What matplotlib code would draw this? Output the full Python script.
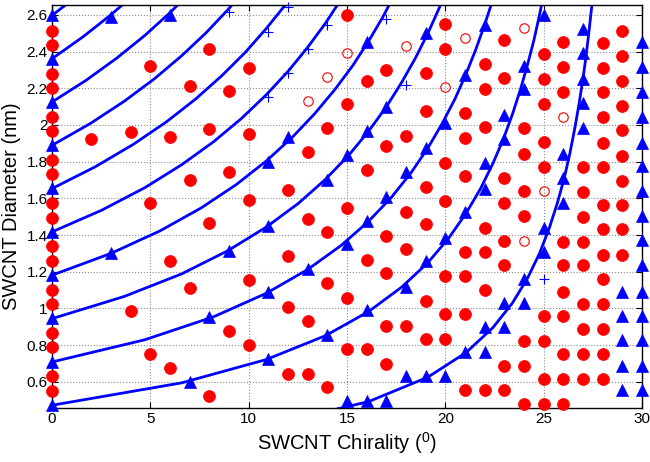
import matplotlib
matplotlib.use("Agg")
import matplotlib.pyplot as plt

plt.rcParams['font.family'] = ['Liberation Sans', 'DejaVu Sans']
plt.rcParams['mathtext.default'] = 'regular'

# ---------------- data ----------------
# metallic SWCNTs (blue filled triangles): chirality column -> diameters
metallic = {
    0: [0.473, 0.709, 0.946, 1.182, 1.416, 1.655, 1.891, 2.124, 2.357, 2.598],
    3: [1.300, 2.590],
    6: [2.600],
    7: [0.600],
    8: [0.955],
    9: [1.315],
    11: [0.724, 1.088, 1.450, 1.800],
    12: [1.937],
    13: [1.214],
    14: [0.856, 1.700],
    15: [0.493, 1.352, 1.837],
    16: [0.493, 0.989, 1.477, 1.968, 2.455],
    17: [0.493, 1.607, 2.100],
    18: [0.633, 1.119, 1.741],
    19: [0.633, 1.256, 1.877, 2.500],
    20: [0.633, 1.383, 2.008],
    21: [0.765, 1.523, 2.273],
    22: [0.765, 0.896, 1.650, 1.792, 2.545],
    23: [0.896, 1.032, 1.923, 2.055],
    24: [1.032, 1.160, 2.195, 2.322],
    25: [1.305, 1.438, 2.600],
    26: [1.574, 1.710, 1.843],
    27: [1.983, 2.119, 2.251, 2.391, 2.524],
    29: [0.553, 0.687, 0.825, 0.960, 1.092],
    30: [0.553, 0.687, 0.825, 0.960, 1.092, 1.238, 1.374, 1.505, 1.641,
         1.777, 1.904, 2.046, 2.180, 2.318, 2.451],
}

# semiconducting SWCNTs (red filled circles)
semicond = {
    0: [0.551, 0.630, 0.787, 0.868, 1.025, 1.102, 1.259, 1.338, 1.494, 1.574,
        1.731, 1.807, 1.966, 2.044, 2.202, 2.280, 2.436, 2.512],
    2: [1.923],
    4: [0.987, 1.964],
    5: [0.751, 1.577, 2.322],
    6: [0.675, 1.261, 1.933],
    7: [1.110, 1.700, 2.213],
    8: [0.520, 1.467, 1.979, 2.415],
    9: [0.878, 1.746, 2.186],
    10: [0.800, 1.156, 1.592, 1.951, 2.309],
    12: [0.644, 1.005, 1.287, 1.643],
    13: [0.644, 0.929, 1.490, 1.850],
    14: [0.569, 1.138, 1.414, 1.983],
    15: [0.778, 1.056, 1.546, 2.113, 2.600],
    16: [0.778, 1.265, 1.752, 2.242],
    17: [0.698, 0.905, 1.192, 1.396, 1.888, 2.300],
    18: [0.905, 1.323, 1.528, 1.942],
    19: [0.834, 1.041, 1.461, 1.661, 2.077, 2.282],
    20: [0.834, 0.967, 1.174, 1.588, 1.795, 2.415, 2.551],
    21: [0.553, 0.969, 1.174, 1.305, 1.723, 1.928, 2.064],
    22: [0.553, 1.101, 1.305, 1.441, 1.991, 2.197, 2.333],
    23: [0.553, 0.687, 1.235, 1.370, 1.577, 1.710, 2.258, 2.464],
    24: [0.480, 0.687, 0.823, 1.505, 1.641, 1.843, 1.983],
    25: [0.480, 0.616, 0.823, 0.956, 1.773, 1.906, 2.115, 2.251, 2.387],
    26: [0.480, 0.616, 0.751, 0.956, 1.092, 1.235, 1.361, 2.179, 2.315, 2.451],
    27: [0.616, 0.751, 0.887, 1.023, 1.235, 1.361, 1.498, 1.634, 1.770],
    28: [0.616, 0.751, 0.887, 1.023, 1.160, 1.292, 1.432, 1.565, 1.770, 1.904,
         2.042, 2.177, 2.309, 2.449],
    29: [1.292, 1.432, 1.565, 1.697, 1.833, 1.973, 2.104, 2.242, 2.378, 2.513],
}

# highlighted semiconducting tubes (open red circles)
open_x = [13, 14, 15, 18, 20, 21, 24, 26, 25, 24]
open_y = [2.133, 2.260, 2.395, 2.433, 2.209, 2.476, 2.527, 2.046, 1.641, 1.370]

# highlighted metallic tubes (blue plus)
plus_x = [9, 11, 11, 12, 12, 13, 14, 17, 18, 25]
plus_y = [2.615, 2.155, 2.509, 2.286, 2.645, 2.413, 2.545, 2.577, 2.218, 1.160]

# metallic family curves (n-m = 3, 6, ..., 33): chirality / diameter nodes
curve_x = {
    3: [10.89, 16.10, 19.11, 21.05, 22.41, 23.41, 24.18, 24.79, 25.28, 25.69,
        26.04, 26.33, 26.58, 26.80, 27.00, 27.17, 27.32, 27.46],
    6: [0, 6.59, 10.89, 13.90, 16.10, 17.78, 19.11, 20.17, 21.05, 21.79, 22.41,
        22.95, 23.41, 23.82, 24.18, 24.51, 24.79, 25.05],
    9: [0, 4.72, 8.21, 10.89, 13.00, 14.70, 16.10, 17.27, 18.26, 19.11, 19.84,
        20.49, 21.05, 21.55, 22.00, 22.41],
    12: [0, 3.67, 6.59, 8.95, 10.89, 12.52, 13.90, 15.08, 16.10, 17.00, 17.78,
         18.48, 19.11, 19.67, 20.17],
    15: [0, 3.00, 5.50, 7.59, 9.37, 10.89, 12.22, 13.37, 14.39, 15.30, 16.10,
         16.83, 17.48],
    18: [0, 2.54, 4.72, 6.59, 8.21, 9.64, 10.89, 12.01, 13.00, 13.90, 14.70],
    21: [0, 2.20, 4.13, 5.82, 7.31, 8.64, 9.83, 10.89, 11.86, 12.73],
    24: [0, 1.95, 3.67, 5.21, 6.59, 7.83, 8.95, 9.97],
    27: [0, 1.74, 3.30, 4.72, 5.99, 7.15],
    30: [0, 1.57, 3.00, 4.31],
    33: [0, 1.44],
}
curve_y = {
    3: [0.361, 0.492, 0.625, 0.759, 0.894, 1.029, 1.165, 1.300, 1.436, 1.572,
        1.708, 1.844, 1.980, 2.116, 2.252, 2.388, 2.525, 2.661],
    6: [0.472, 0.594, 0.721, 0.851, 0.983, 1.116, 1.249, 1.383, 1.518, 1.653,
        1.788, 1.923, 2.058, 2.194, 2.329, 2.465, 2.601, 2.737],
    9: [0.708, 0.829, 0.954, 1.082, 1.212, 1.343, 1.475, 1.607, 1.740, 1.874,
        2.008, 2.142, 2.277, 2.412, 2.547, 2.682],
    12: [0.944, 1.065, 1.188, 1.315, 1.443, 1.572, 1.703, 1.834, 1.966, 2.099,
         2.232, 2.365, 2.499, 2.633, 2.767],
    15: [1.181, 1.300, 1.423, 1.548, 1.675, 1.803, 1.933, 2.063, 2.194, 2.325,
         2.457, 2.590, 2.723],
    18: [1.417, 1.536, 1.658, 1.783, 1.908, 2.036, 2.164, 2.293, 2.423, 2.554,
         2.685],
    21: [1.653, 1.772, 1.894, 2.017, 2.142, 2.269, 2.396, 2.525, 2.654, 2.784],
    24: [1.889, 2.008, 2.129, 2.252, 2.377, 2.502, 2.629, 2.757],
    27: [2.125, 2.244, 2.365, 2.488, 2.611, 2.737],
    30: [2.361, 2.480, 2.601, 2.723],
    33: [2.597, 2.716],
}

x_ticks = [0, 5, 10, 15, 20, 25, 30]
y_ticks = [0.6, 0.8, 1.0, 1.2, 1.4, 1.6, 1.8, 2.0, 2.2, 2.4, 2.6]
y_tick_labels = ['0.6', '0.8', '1', '1.2', '1.4', '1.6', '1.8', '2', '2.2', '2.4', '2.6']
x_label = 'SWCNT Chirality ($^0$)'
y_label = 'SWCNT Diameter (nm)'

# ---------------- drawing ----------------
BLUE = '#0000ff'
RED = '#ff0000'

fig = plt.figure(figsize=(6.5, 4.62), dpi=100)
ax = fig.add_axes([52 / 650, 1 - 408 / 462, 590 / 650, 403 / 462])

for p in curve_x:
    ax.plot(curve_x[p], curve_y[p], color=BLUE, lw=2.0, zorder=2,
            solid_capstyle='butt')

mx = [c for c, ys in metallic.items() for _ in ys]
my = [y for c, ys in metallic.items() for y in ys]
sx = [c for c, ys in semicond.items() for _ in ys]
sy = [y for c, ys in semicond.items() for y in ys]

ax.plot(sx, sy, linestyle='none', marker='o', ms=8.6, mfc=RED, mec=RED,
        mew=0.5, zorder=3, clip_on=False)
ax.plot(mx, my, linestyle='none', marker='^', ms=8.6, mfc=BLUE, mec=BLUE,
        mew=0.5, zorder=3, clip_on=False)
ax.plot(open_x, open_y, linestyle='none', marker='o', ms=6.8, mfc='none',
        mec=RED, mew=0.8, zorder=3, clip_on=False)
ax.plot(plus_x, plus_y, linestyle='none', marker='+', ms=7.5, mec=BLUE,
        mew=0.8, zorder=3, clip_on=False)

ax.set_xlim(0, 30)
ax.set_ylim(0.457, 2.654)
ax.set_xticks(x_ticks)
ax.set_xticklabels([str(t) for t in x_ticks])
ax.set_yticks(y_ticks)
ax.set_yticklabels(y_tick_labels)
ax.grid(True, linestyle=':', color='#8c8c8c', linewidth=0.8)
ax.set_axisbelow(True)
ax.tick_params(direction='in', top=True, right=True, length=4, width=0.8,
               labelsize=11, pad=3, colors='black')
for s in ax.spines.values():
    s.set_linewidth(1.0)
    s.set_color('black')

ax.set_xlabel(x_label, fontsize=14.5, labelpad=3)
ax.set_ylabel(y_label, fontsize=14.5, labelpad=4)

fig.savefig('out.png', dpi=100)
